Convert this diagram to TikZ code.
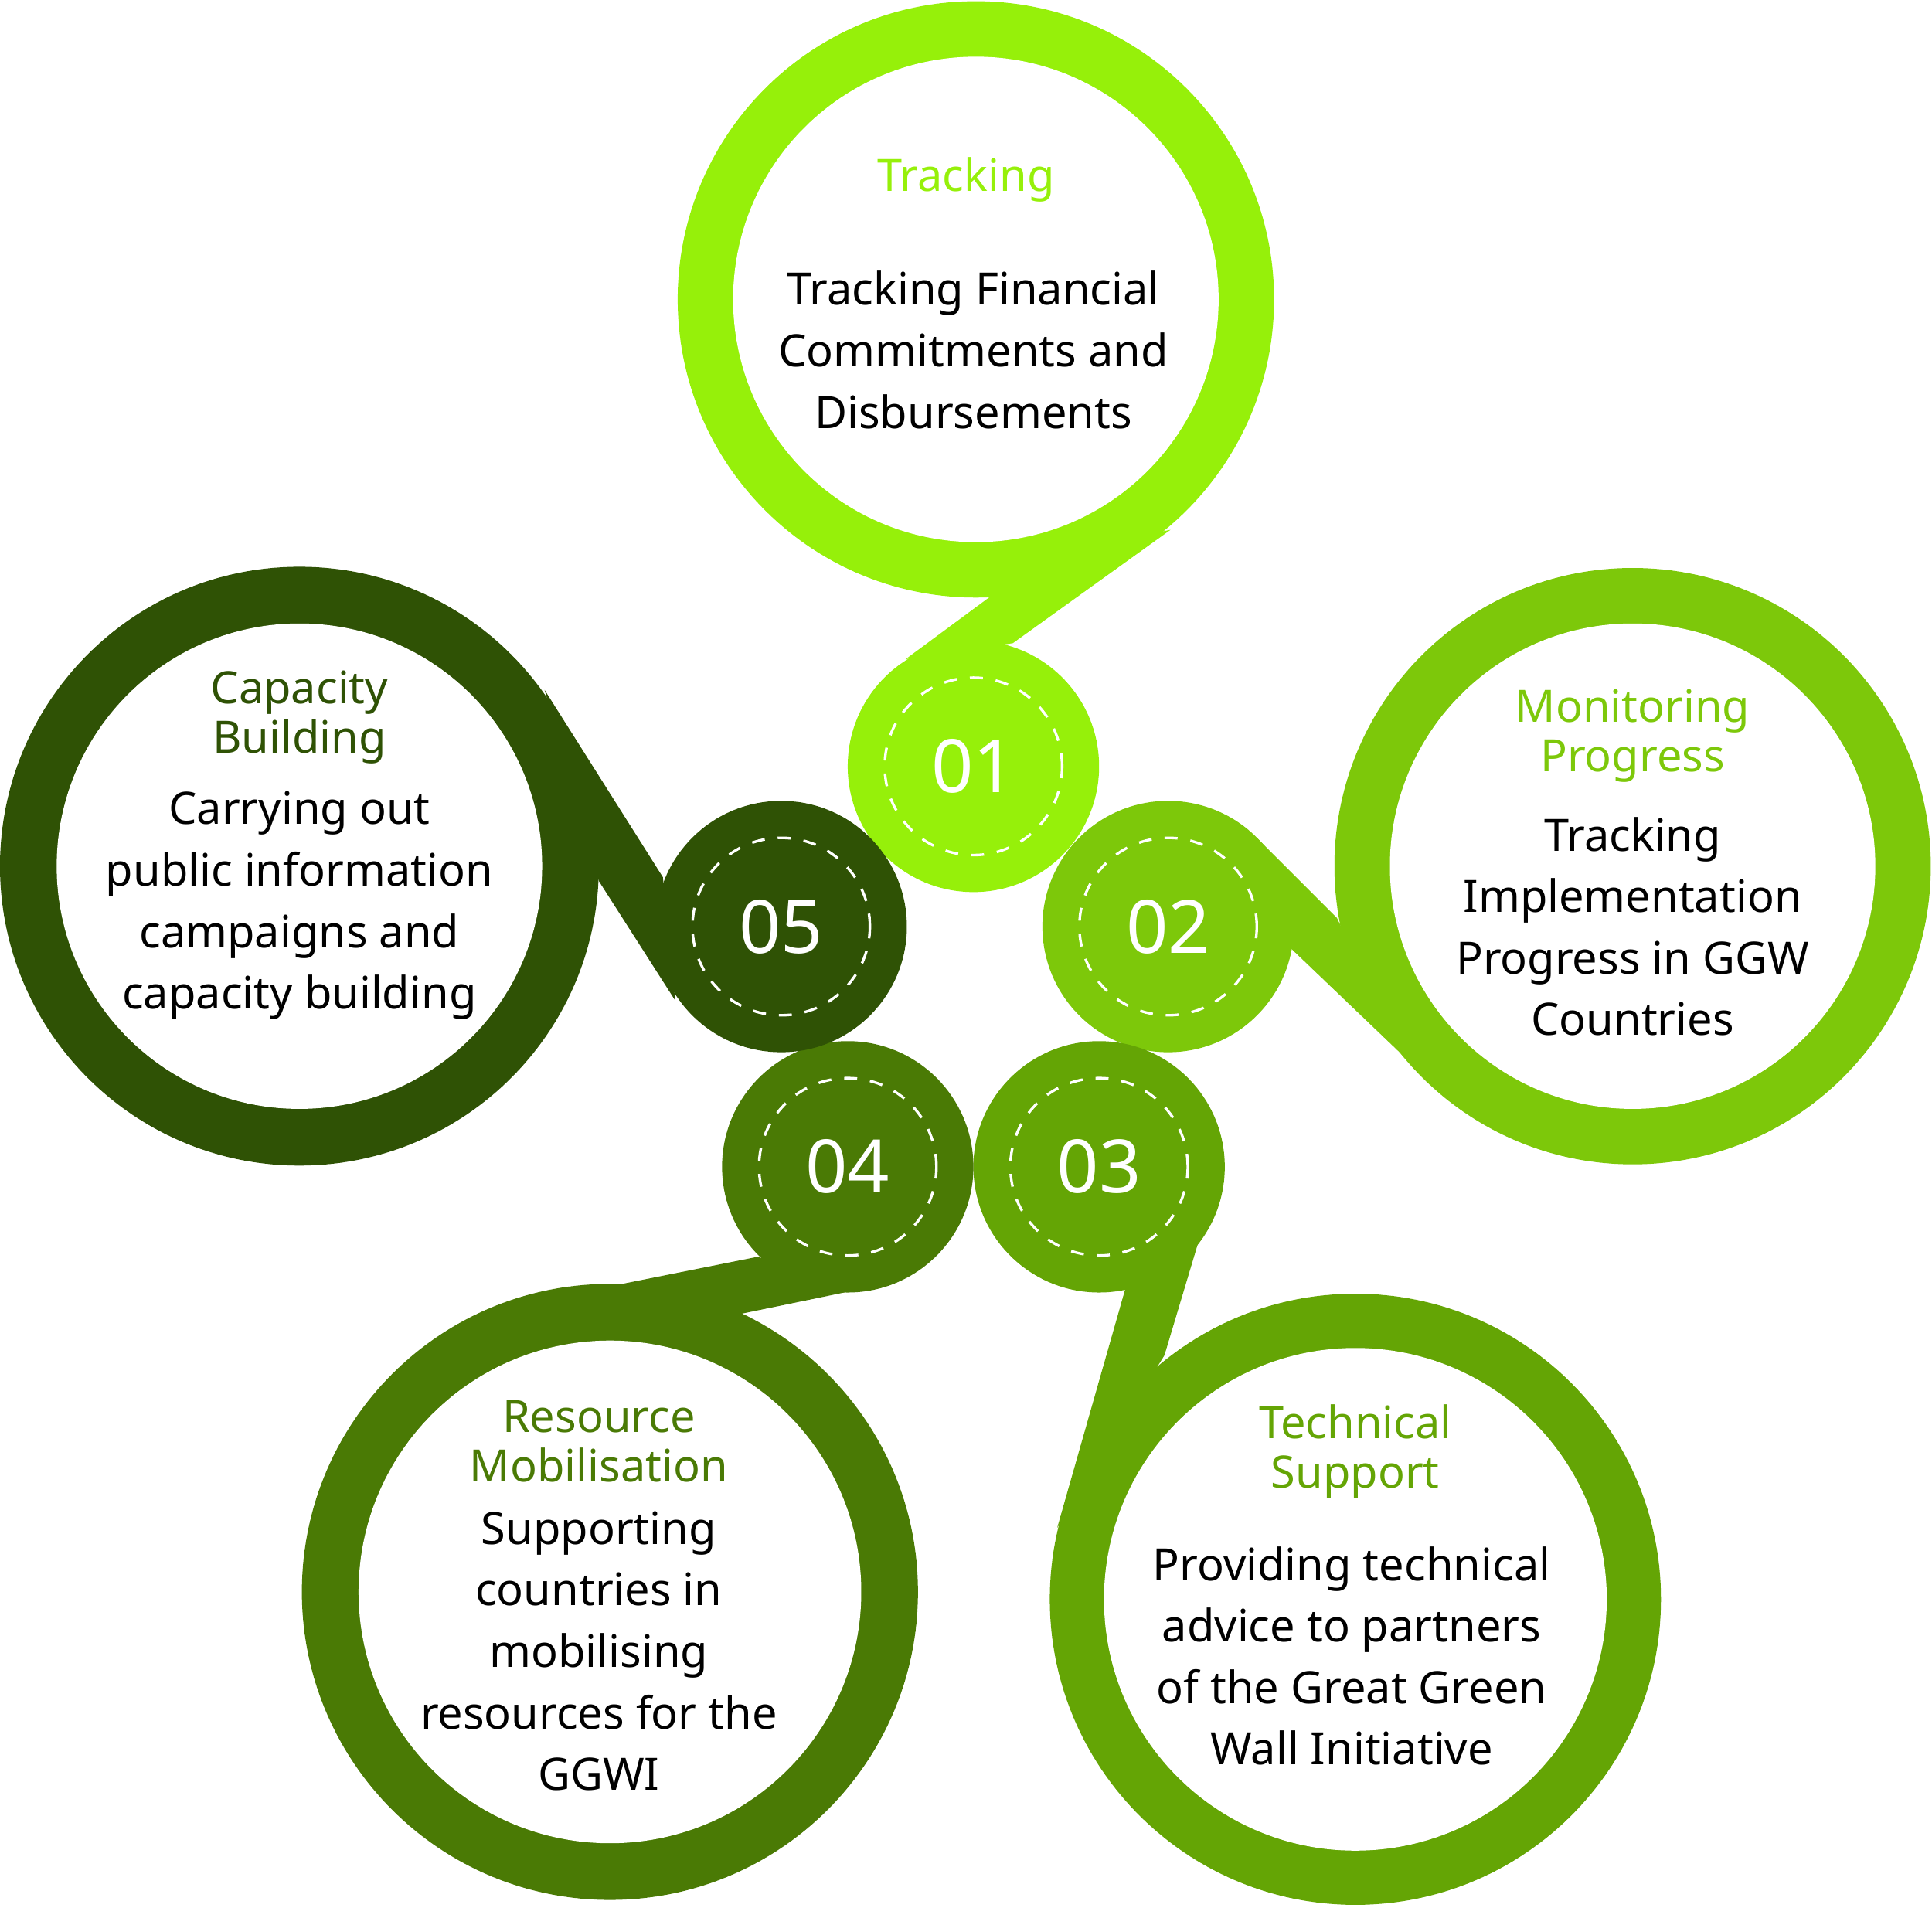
\documentclass[tikz,border=0pt]{standalone}
\usepackage{fontspec}
\setmainfont{Noto Sans}
\definecolor{cA}{HTML}{96F00A}
\definecolor{cB}{HTML}{7DC80A}
\definecolor{cC}{HTML}{64A505}
\definecolor{cD}{HTML}{4A7A05}
\definecolor{cE}{HTML}{2F5205}
\tikzset{
 body/.style={align=center,font=\fontsize{10.3}{14.2}\selectfont,text=black},
 head/.style={align=center,font=\fontsize{10.3}{11.4}\selectfont\bfseries},
 num/.style={font=\fontsize{17}{20}\selectfont\bfseries,text=white},
 dash ring/.style={draw=white,dashed,line width=0.6pt},
}
\newcommand{\ringdraw}[4]{%
 \fill[#4] (#1) circle (#2);
 \fill[white] (#1) circle (#3);
}
\newcommand{\numcirc}[3]{%
 \fill[#2] (#1) circle (1.02);
 \draw[dash ring] (#1) circle (0.72);
 \node[num] at (#1) {#3};
}
\begin{document}
\begin{tikzpicture}
\useasboundingbox (0,0) rectangle (15.68,-15.48);
% connectors
\fill[cA] (7.35,-5.35) -- (8.50,-4.50) -- (9.50,-4.30) -- (8.22,-5.22) -- cycle;
\fill[cB] (10.20,-6.80) -- (10.85,-7.45) -- (11.40,-8.58) -- (10.48,-7.70) -- cycle;
\fill[cC] (9.75,-10.00) -- (9.45,-11.00) -- (8.58,-12.40) -- (9.15,-10.40) -- cycle;
\fill[cD] (6.15,-10.20) -- (4.80,-10.47) -- (5.98,-10.67) -- (6.90,-10.48) -- cycle;
\fill[cE] (4.42,-5.60) -- (5.38,-7.12) -- (5.48,-8.12) -- (4.86,-7.15) -- cycle;
% rings
\ringdraw{7.92,-2.43}{2.42}{1.97}{cA}
\ringdraw{13.25,-7.03}{2.42}{1.97}{cB}
\ringdraw{11.00,-12.98}{2.48}{2.04}{cC}
\ringdraw{4.95,-12.92}{2.50}{2.04}{cD}
\ringdraw{2.43,-7.03}{2.43}{1.97}{cE}
% small circles
\numcirc{7.90,-6.22}{cA}{01}
\numcirc{9.48,-7.52}{cB}{02}
\numcirc{8.92,-9.47}{cC}{03}
\numcirc{6.88,-9.47}{cD}{04}
\numcirc{6.34,-7.52}{cE}{05}
% texts
\node[head,text=cA] (ha) at (7.84,-1.46) {Tracking};
\node[body] (ba) at (7.90,-2.84) {Tracking Financial\\Commitments and\\Disbursements};
\node[head,text=cB] (hb) at (13.25,-5.97) {Monitoring\\Progress};
\node[body] (bb) at (13.25,-7.52) {Tracking\\Implementation\\Progress in GGW\\Countries};
\node[head,text=cC] (hc) at (11.00,-11.78) {Technical\\Support};
\node[body] (bc) at (10.97,-13.44) {Providing technical\\advice to partners\\of the Great Green\\Wall Initiative};
\node[head,text=cD] (hd) at (4.86,-11.70) {Resource\\Mobilisation};
\node[body] (bd) at (4.86,-13.40) {Supporting\\countries in\\mobilising\\resources for the\\GGWI};
\node[head,text=cE] (he) at (2.43,-5.82) {Capacity\\Building};
\node[body] (be) at (2.43,-7.35) {Carrying out\\public information\\campaigns and\\capacity building};
\end{tikzpicture}
\end{document}
